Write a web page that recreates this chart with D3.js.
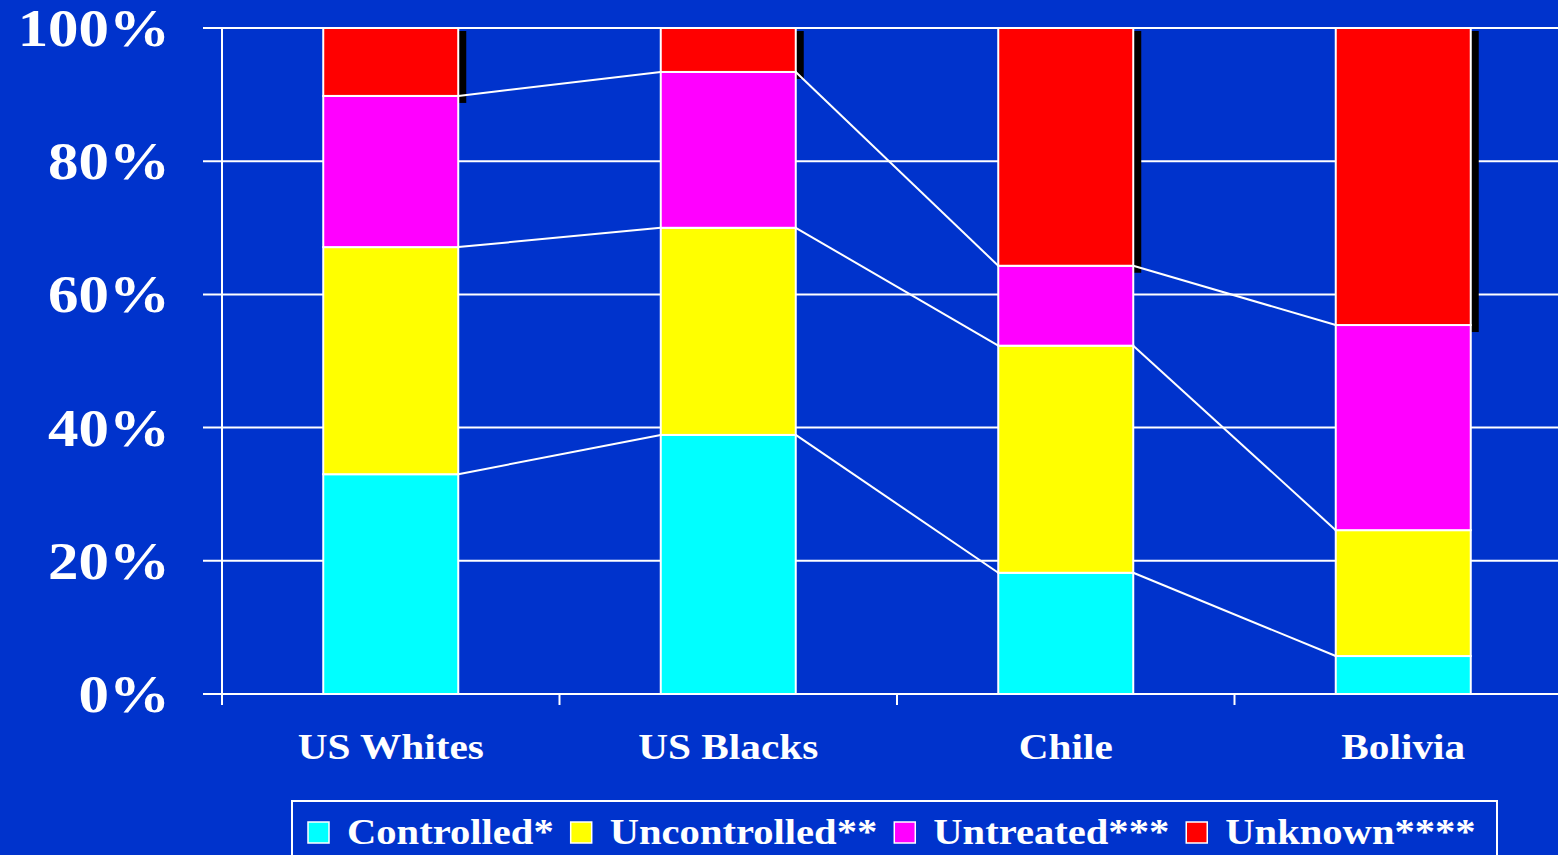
<!DOCTYPE html>
<html>
<head>
<meta charset="utf-8">
<script src="https://cdn.jsdelivr.net/npm/d3@7"></script>
<style>
  html, body { margin: 0; padding: 0; background: #0033cc; overflow: hidden; }
  text { font-family: "Liberation Serif", "Times New Roman", serif; font-weight: bold; fill: #fff; }
</style>
</head>
<body>
<div id="chart"></div>
<script>
// chart data
var categories = ["US Whites", "US Blacks", "Chile", "Bolivia"];
var seriesNames = ["Controlled*", "Uncontrolled**", "Untreated***", "Unknown****"];
var controlled = [33.0, 38.9, 18.2, 5.7];
var uncontrolled = [34.1, 31.1, 34.1, 18.9];
var untreated = [22.7, 23.4, 12.0, 30.8];
var unknown = [10.2, 6.6, 35.7, 44.6];
var yTicks = [0, 20, 40, 60, 80, 100];
var yTickLabels = ["0%", "20%", "40%", "60%", "80%", "100%"];
var colors = ["#00ffff", "#ffff00", "#ff00ff", "#ff0000"];

var W = 1558, H = 855;

// build rows for the stack
var keys = ["controlled", "uncontrolled", "untreated", "unknown"];
var rows = categories.map(function (c, i) {
  return {cat: c, controlled: controlled[i], uncontrolled: uncontrolled[i],
          untreated: untreated[i], unknown: unknown[i]};
});
var stacked = d3.stack().keys(keys)(rows);

var x = d3.scaleBand()
    .domain(categories)
    .range([222, 1572])
    .paddingInner(0.6)
    .paddingOuter(0.3);
var y = d3.scaleLinear().domain([0, 100]).range([694, 28]);

var svg = d3.select("#chart").append("svg")
    .attr("width", W)
    .attr("height", H);

svg.append("rect").attr("width", W).attr("height", H).attr("fill", "#0033cc");

// gridlines
svg.append("g").selectAll("line")
    .data(yTicks)
  .enter().append("line")
    .attr("x1", 203).attr("x2", W)
    .attr("y1", function (d) { return y(d); })
    .attr("y2", function (d) { return y(d); })
    .attr("stroke", "#fff").attr("stroke-width", 2);

// y axis line
svg.append("line")
    .attr("x1", 222).attr("x2", 222)
    .attr("y1", y(100)).attr("y2", y(0) + 11)
    .attr("stroke", "#fff").attr("stroke-width", 2);

// x ticks at band boundaries
var step = x.step();
var bounds = categories.map(function (c, i) { return x.range()[0] + i * step; });
svg.append("g").selectAll("line")
    .data(bounds.slice(1))
  .enter().append("line")
    .attr("x1", function (d) { return d; })
    .attr("x2", function (d) { return d; })
    .attr("y1", y(0)).attr("y2", y(0) + 11)
    .attr("stroke", "#fff").attr("stroke-width", 2);

// y labels
svg.append("g").selectAll("text")
    .data(yTicks)
  .enter().append("text")
    .attr("transform", function (d) { return "translate(170," + (y(d) + 18) + ") scale(1.15,1)"; })
    .attr("text-anchor", "end")
    .attr("font-size", 53)
    .text(function (d, i) { return yTickLabels[i]; });

// black shadow behind the top segment
var topSeries = stacked[stacked.length - 1];
svg.append("g").selectAll("rect")
    .data(topSeries)
  .enter().append("rect")
    .attr("x", function (d) { return x(d.data.cat) + x.bandwidth(); })
    .attr("y", function (d) { return y(d[1]) + 3; })
    .attr("width", 8)
    .attr("height", function (d) { return y(d[0]) - y(d[1]) + 4; })
    .attr("fill", "#000");

// bars
svg.append("g").selectAll("g")
    .data(stacked)
  .enter().append("g")
    .attr("fill", function (d, i) { return colors[i]; })
  .selectAll("rect")
    .data(function (d) { return d; })
  .enter().append("rect")
    .attr("x", function (d) { return x(d.data.cat); })
    .attr("y", function (d) { return y(d[1]); })
    .attr("width", x.bandwidth())
    .attr("height", function (d) { return y(d[0]) - y(d[1]); })
    .attr("stroke", "#fff").attr("stroke-width", 2);

// connector lines between bars
stacked.slice(0, 3).forEach(function (s) {
  for (var i = 0; i < s.length - 1; i++) {
    svg.append("line")
      .attr("x1", x(s[i].data.cat) + x.bandwidth())
      .attr("y1", y(s[i][1]))
      .attr("x2", x(s[i + 1].data.cat))
      .attr("y2", y(s[i + 1][1]))
      .attr("stroke", "#fff").attr("stroke-width", 2);
  }
});

// category labels
svg.append("g").selectAll("text")
    .data(categories)
  .enter().append("text")
    .attr("transform", function (d) { return "translate(" + (x(d) + x.bandwidth() / 2) + ",759) scale(1.18,1)"; })
    .attr("text-anchor", "middle")
    .attr("font-size", 35)
    .text(function (d) { return d; });

// legend
var legend = svg.append("g");
legend.append("rect")
    .attr("x", 292).attr("y", 801)
    .attr("width", 1205).attr("height", 70)
    .attr("fill", "none").attr("stroke", "#fff").attr("stroke-width", 2);

var lsx = 1.16;
var lx = 308;
seriesNames.forEach(function (name, i) {
  legend.append("rect")
    .attr("x", lx).attr("y", 822)
    .attr("width", 21).attr("height", 21)
    .attr("fill", colors[i]).attr("stroke", "#fff").attr("stroke-width", 1.5);
  var t = legend.append("text")
    .attr("transform", "translate(" + (lx + 39) + ",844) scale(" + lsx + ",1)")
    .attr("font-size", 35)
    .text(name);
  lx += 39 + t.node().getComputedTextLength() * lsx + 17;
});
</script>
</body>
</html>
